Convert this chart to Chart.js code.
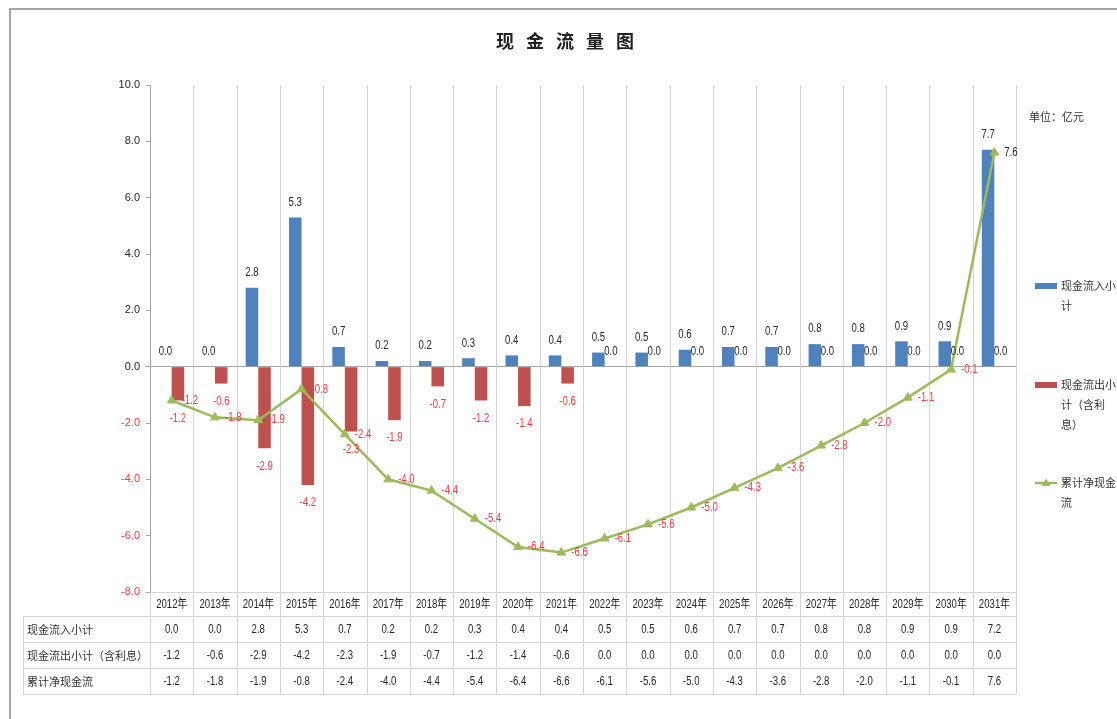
<!DOCTYPE html>
<html>
<head>
<meta charset="utf-8">
<script src="https://cdn.jsdelivr.net/npm/chart.js@4"></script>
<style>
  html, body { margin: 0; padding: 0; background: #fff; }
  #wrap { width: 1117px; height: 719px; position: relative; }
</style>
</head>
<body>
<div id="wrap"><canvas id="c" width="1117" height="719"></canvas></div>
<script>
// ---- data (亿元) ----
const years = ['2012年','2013年','2014年','2015年','2016年','2017年','2018年','2019年','2020年','2021年',
               '2022年','2023年','2024年','2025年','2026年','2027年','2028年','2029年','2030年','2031年'];
const inflow = [0.0, 0.0, 2.8, 5.3, 0.7, 0.2, 0.2, 0.3, 0.4, 0.4, 0.5, 0.5, 0.6, 0.7, 0.7, 0.8, 0.8, 0.9, 0.9, 7.7];
const outflow = [-1.2, -0.6, -2.9, -4.2, -2.3, -1.9, -0.7, -1.2, -1.4, -0.6, 0.0, 0.0, 0.0, 0.0, 0.0, 0.0, 0.0, 0.0, 0.0, 0.0];
const netCumulative = [-1.2, -1.8, -1.9, -0.8, -2.4, -4.0, -4.4, -5.4, -6.4, -6.6, -6.1, -5.6, -5.0, -4.3, -3.6, -2.8, -2.0, -1.1, -0.1, 7.6];
// inflow row as printed in the data table
const inflowTableRow = [0.0, 0.0, 2.8, 5.3, 0.7, 0.2, 0.2, 0.3, 0.4, 0.4, 0.5, 0.5, 0.6, 0.7, 0.7, 0.8, 0.8, 0.9, 0.9, 7.2];
const seriesNames = ['现金流入小计', '现金流出小计（含利息）', '累计净现金流'];
const legendLines = [['现金流入小', '计'], ['现金流出小', '计（含利', '息）'], ['累计净现金', '流']];
const yMin = -8, yMax = 10, yStep = 2;
const chartTitle = '现金流量图';
const unitText = '单位：亿元';

// ---- styling ----
const BLUE = '#4F81BD', RED_BAR = '#C0504D', GREEN = '#9BBB59';
const NEG = '#ec3b44', POS = '#262626';
const NUM_FONT = '12px "Liberation Sans", sans-serif';
const CJK_FONT = '11px "Noto Sans CJK SC", sans-serif';
const GRID = '#d4d4d4';
const fmt = v => v.toFixed(1);
const signColor = v => (v < 0 ? NEG : POS);

// condensed number text: horizontally squeezed glyphs
function narrowText(ctx, text, x, y, align) {
  ctx.save();
  ctx.translate(x, y);
  ctx.scale(0.8, 1);
  ctx.textAlign = align;
  ctx.fillText(text, 0, 0);
  ctx.restore();
}

const decor = {
  id: 'decor',
  beforeDraw(chart) {
    const { ctx, width, height } = chart;
    ctx.save();
    ctx.fillStyle = '#fff';
    ctx.fillRect(0, 0, width, height);
    // outer frame
    ctx.strokeStyle = '#a6a6a6';
    ctx.lineWidth = 2;
    ctx.beginPath();
    ctx.moveTo(10, height); ctx.lineTo(10, 9); ctx.lineTo(width, 9);
    ctx.stroke();
    // title, drawn glyph by glyph with wide tracking
    ctx.fillStyle = '#222';
    ctx.font = 'bold 18px "Noto Sans CJK SC", sans-serif';
    ctx.textAlign = 'center';
    ctx.textBaseline = 'middle';
    const chars = [...chartTitle];
    const pitch = 30, cx = 565;
    chars.forEach((ch, i) => ctx.fillText(ch, cx + (i - (chars.length - 1) / 2) * pitch, 41));
    // unit
    ctx.font = CJK_FONT;
    ctx.textAlign = 'left';
    ctx.fillStyle = '#333';
    ctx.fillText(unitText, 1029, 117);
    ctx.restore();
  },
  beforeDatasetsDraw(chart) {
    const { ctx, chartArea } = chart;
    const xs = chart.scales.x;
    const half = (xs.getPixelForValue(1) - xs.getPixelForValue(0)) / 2;
    const tableBottom = chartArea.bottom + 24 + 26 * 3;
    ctx.save();
    ctx.strokeStyle = GRID;
    ctx.lineWidth = 1;
    for (let i = 0; i <= years.length; i++) {
      const x = Math.round(xs.getPixelForValue(i) - half) + 0.5;
      ctx.beginPath();
      ctx.moveTo(x, i === 0 ? chartArea.bottom : chartArea.top);
      ctx.lineTo(x, tableBottom);
      ctx.stroke();
    }
    ctx.restore();
  },
  afterDatasetsDraw(chart) {
    const { ctx } = chart;
    ctx.save();
    ctx.font = NUM_FONT;
    ctx.textBaseline = 'middle';
    [0, 1].forEach(di => {
      const vals = chart.data.datasets[di].data;
      chart.getDatasetMeta(di).data.forEach((el, i) => {
        const v = vals[i];
        ctx.fillStyle = signColor(v);
        const y = v >= 0 ? el.y - 15 : el.y + 18;
        narrowText(ctx, fmt(v), el.x, y, 'center');
      });
    });
    const lv = chart.data.datasets[2].data;
    chart.getDatasetMeta(2).data.forEach((el, i) => {
      ctx.fillStyle = signColor(lv[i]);
      narrowText(ctx, fmt(lv[i]), el.x + 10, el.y, 'left');
    });
    ctx.restore();
  },
  afterDraw(chart) {
    const { ctx, chartArea } = chart;
    const xs = chart.scales.x;
    const top = chartArea.bottom;
    const headH = 24, rowH = 26;
    const left = 23, right = chartArea.right;
    ctx.save();
    // table rules
    ctx.strokeStyle = GRID;
    ctx.lineWidth = 1;
    ctx.beginPath();
    ctx.moveTo(chartArea.left, top + 0.5); ctx.lineTo(right, top + 0.5);
    for (let r = 0; r <= 3; r++) {
      const y = Math.round(top + headH + r * rowH) + 0.5;
      ctx.moveTo(left, y); ctx.lineTo(right, y);
    }
    ctx.moveTo(left + 0.5, top + headH); ctx.lineTo(left + 0.5, top + headH + 3 * rowH);
    ctx.stroke();
    // header: years
    ctx.textBaseline = 'middle';
    ctx.fillStyle = POS;
    ctx.font = '12px "Liberation Sans", "Noto Sans CJK SC", sans-serif';
    years.forEach((yr, i) => narrowText(ctx, yr, xs.getPixelForValue(i), top + headH / 2 + 1, 'center'));
    // rows
    const rows = [inflowTableRow, outflow, netCumulative];
    rows.forEach((row, r) => {
      const y = top + headH + r * rowH + rowH / 2 + 1;
      ctx.font = CJK_FONT;
      ctx.textAlign = 'left';
      ctx.fillStyle = '#333';
      ctx.fillText(seriesNames[r], left + 4, y);
      ctx.font = NUM_FONT;
      ctx.fillStyle = POS;
      row.forEach((v, i) => narrowText(ctx, fmt(v), xs.getPixelForValue(i), y, 'center'));
    });
    // legend
    const lx = 1035, lw = 22, tx = 1061, lh = 20;
    const items = [
      { y: 286, color: BLUE, kind: 'bar' },
      { y: 385, color: RED_BAR, kind: 'bar' },
      { y: 483, color: GREEN, kind: 'line' }
    ];
    items.forEach((it, k) => {
      if (it.kind === 'bar') {
        ctx.fillStyle = it.color;
        ctx.fillRect(lx, it.y - 3, lw, 6);
      } else {
        ctx.strokeStyle = it.color;
        ctx.lineWidth = 2.5;
        ctx.beginPath(); ctx.moveTo(lx, it.y); ctx.lineTo(lx + lw, it.y); ctx.stroke();
        ctx.fillStyle = it.color;
        const c = lx + lw / 2;
        ctx.beginPath(); ctx.moveTo(c, it.y - 4.5); ctx.lineTo(c + 4.5, it.y + 3); ctx.lineTo(c - 4.5, it.y + 3); ctx.closePath(); ctx.fill();
      }
      ctx.font = CJK_FONT;
      ctx.textAlign = 'left';
      ctx.fillStyle = '#333';
      legendLines[k].forEach((t, j) => ctx.fillText(t, tx, it.y + j * lh));
    });
    ctx.restore();
  }
};

new Chart(document.getElementById('c'), {
  type: 'bar',
  data: {
    labels: years,
    datasets: [
      { label: seriesNames[0], data: inflow, backgroundColor: BLUE, order: 2,
        categoryPercentage: 0.58, barPercentage: 1.0 },
      { label: seriesNames[1], data: outflow, backgroundColor: RED_BAR, order: 2,
        categoryPercentage: 0.58, barPercentage: 1.0 },
      { label: seriesNames[2], data: netCumulative, type: 'line', order: 0,
        borderColor: GREEN, backgroundColor: GREEN, borderWidth: 2.5, tension: 0,
        pointStyle: 'triangle', pointRadius: 5, pointBorderWidth: 1 }
    ]
  },
  options: {
    responsive: false,
    animation: false,
    events: [],
    layout: { padding: { left: 0, top: 85, right: 101, bottom: 127 } },
    plugins: { legend: { display: false }, tooltip: { enabled: false }, title: { display: false } },
    scales: {
      x: { display: false, offset: true },
      y: {
        min: yMin, max: yMax,
        afterFit(scale) { scale.width = 150; },
        ticks: {
          stepSize: yStep,
          padding: 6,
          font: { size: 11, family: '"Liberation Sans Narrow", "Liberation Sans", sans-serif' },
          color: c => signColor(c.tick.value),
          callback: v => fmt(v)
        },
        grid: {
          drawOnChartArea: true,
          color: c => (c.tick && c.tick.value === 0 ? '#a6a6a6' : 'rgba(0,0,0,0)'),
          tickColor: '#a6a6a6',
          tickLength: 4
        },
        border: { display: true, color: '#a6a6a6' }
      }
    }
  },
  plugins: [decor]
});
</script>
</body>
</html>
